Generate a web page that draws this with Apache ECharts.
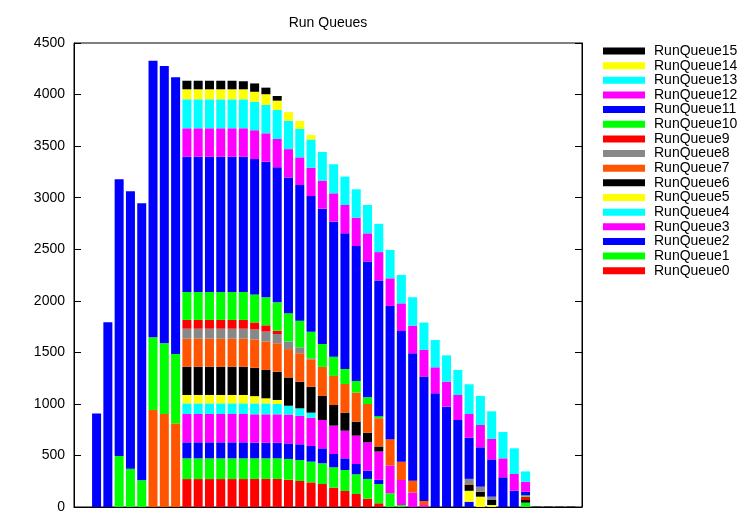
<!DOCTYPE html>
<html>
<head>
<meta charset="utf-8">
<script src="https://cdn.jsdelivr.net/npm/echarts@6/dist/echarts.min.js"></script>
<style>html,body{margin:0;padding:0;background:#fff}#c{width:750px;height:525px}</style>
</head>
<body>
<div id="c"></div>
<script>
// histogram rows shown on the x axis (-2..43); bars occupy rows 0..42
const categories = Array.from({length: 46}, (_, i) => String(i - 2));
const firstBarCategory = 2;
const yTicks = [0, 500, 1000, 1500, 2000, 2500, 3000, 3500, 4000, 4500];
const seriesNames = ['RunQueue0','RunQueue1','RunQueue2','RunQueue3','RunQueue4','RunQueue5','RunQueue6','RunQueue7',
  'RunQueue8','RunQueue9','RunQueue10','RunQueue11','RunQueue12','RunQueue13','RunQueue14','RunQueue15'];
const colors = ['#ff0000','#00ff00','#0000ff','#ff00ff','#00ffff','#ffff00','#000000','#ff5500',
  '#888888','#ff0000','#00ff00','#0000ff','#ff00ff','#00ffff','#ffff00','#000000'];

const rq0  = [0,0,0,0,0,0,0,0, 271,271,271,271,271,271, 272,272,272,265,252,239,223,188,155,126,81,36, 0,0,0,0,0,0,0,0,0,0,0,0,0,0,0,0,0];
const rq1  = [0,0,0,0,0,0,0,0, 201,201,201,201,201,201, 200,200,200,201,204,201,201,197,204,191,191,187,133,19, 0,0,0,0,0,0,0,0,0,0, 42, 0,0,0,0];
const rq2  = [0,0,0,0,0,0,0,0, 155,155,155,155,155,155, 152,152,152,151,152,152,145,129,113,100,80,40, 0,0,0,0,0,0,0, 51, 0,0,0,0,0,0,0,0,0];
const rq3  = [0,0,0,0,0,0,0,0, 275,275,275,275,275,275, 275,275,275,280,275,274,275,275,268,275,275,275,270,243,139,19, 0,0,0,0,0,0,0,0,0,0,0,0,0];
const rq4  = [0,0,0,0,0,0,0,0, 103,103,103,103,103,103, 106,106,100,85,74,49, 0,0,0,0,0,0,0,0,0,0,0,0,0,0,0,0,0,0,0,0,0,0,0];
const rq5  = [0,0,0,0,0,0,0,0, 81,81,81,81,81,81, 70,49,39, 0,0,0,0,0,0,0,0,0,0,0,0,0,0,0,0, 106,100,19, 0,0,0,0,0,0,0];
const rq6  = [0,0,0,0,0,0,0,0, 275,275,275,275,275,275, 275,275,274,274,258,252,233,200,175,136,94,49, 0,0,0,0,0,0,0, 60,48,49, 0,0, 26, 0,0,0,0];
const rq7  = [0,0,0,0,0, 941,902,811, 271,271,271,271,271,271, 275,275,276,275,276,265,282,282,278,281,278,274,255,178,116,40, 0,0,0, 6,4, 0,0,0,0,0,0,0,0];
const rq8  = [0,0,0,0,0,0,0,0, 97,97,97,97,97,97, 97,97,90,74,58,10, 0,0,0,0,0,0,0,0,0,0,0,0,0, 50,45,32, 0,0,0,0,0,0,0];
const rq9  = [0,0,0,0,0,0,0,0, 85,85,85,85,85,85, 68,61,32, 0,0,0,0,0,0,0,0,0,0,0,0,0,0,0,0,0,0,0,0,0, 32, 0,0,0,0];
const rq10 = [0,0, 495,372,259,705,685,673, 271,271,271,271,271,271, 272,272,275,275,258,258,222,187,145,113,65,20, 0,0,0,0,0,0,0,0,0,0,0,0, 13, 0,0,0,0];
const rq11 = [908,1791,2683,2690,2686,2683,2690,2683, 1312,1312,1312,1312,1312,1312, 1312,1315,1309,1316,1316,1315,1312,1309,1316,1309,1316,1316,1292,1267,1235,1206,1102,973,844,399,382,362,288,158,35, 0,0,0,0];
const rq12 = [0,0,0,0,0,0,0,0, 276,276,276,276,276,276, 280,275,275,275,268,275,272,275,275,275,274,275,268,268,269,259,253,243,242,230,216,198,184,162,97, 0,0,0,0];
const rq13 = [0,0,0,0,0,0,0,0, 281,281,281,281,281,281, 276,275,282,275,275,275,278,282,275,275,275,274,275,275,275,265,265,255,243,288,282,268,255,249,100, 0,0,0,0];
const rq14 = [0,0,0,0,0,0,0,0, 97,97,97,97,97,97, 97,104,90,84,78,42, 0,0,0,0,0,0,0,0,0,0,0,0,0,0,0,0,0,0,0,0,0,0,0];
const rq15 = [0,0,0,0,0,0,0,0, 83,83,83,83,83,78, 81,64,45, 0,0,0,0,0,0,0,0,0,0,0,0,0,0,0,0,0,0,0,0,0,0, 4,4,4,4];

const allValues = [rq0,rq1,rq2,rq3,rq4,rq5,rq6,rq7,rq8,rq9,rq10,rq11,rq12,rq13,rq14,rq15];
const FONT = "'Liberation Sans', Arial, Helvetica, sans-serif";

const chart = echarts.init(document.getElementById('c'), null, {renderer: 'canvas'});
const series = allValues.map((vals, k) => {
  const data = categories.map(() => 0);
  vals.forEach((v, i) => { data[i + firstBarCategory] = v; });
  return {
    name: seriesNames[k],
    type: 'bar',
    stack: 'all',
    barWidth: 9,
    itemStyle: {color: colors[k]},
    emphasis: {disabled: true},
    data: data
  };
});

chart.setOption({
  animation: false,
  backgroundColor: '#fff',
  color: colors,
  title: {
    text: 'Run Queues', left: 328, top: 16, padding: 0, textAlign: 'center',
    textStyle: {fontSize: 14, fontWeight: 'normal', color: '#000', fontFamily: FONT}
  },
  grid: {left: 74, right: 168, top: 43, bottom: 18, show: true, borderColor: '#000', borderWidth: 1},
  legend: {
    orient: 'vertical', left: 603, top: 44, padding: 0, itemWidth: 42, itemHeight: 7, itemGap: 0.65,
    icon: 'rect', selectedMode: false,
    formatter: '{t|{name}}',
    textStyle: {fontSize: 14, color: '#000', fontFamily: FONT,
      rich: {t: {fontSize: 14, color: '#000', fontFamily: FONT, padding: [0, 0, 0, 4], height: 14, lineHeight: 14}}},
    data: seriesNames.slice().reverse()
  },
  xAxis: [{
    type: 'category', data: categories, boundaryGap: false, position: 'bottom',
    axisLine: {show: true, lineStyle: {color: '#000', width: 1}},
    axisTick: {show: false}, axisLabel: {show: false}, splitLine: {show: false}
  }],
  yAxis: [{
    type: 'value', min: yTicks[0], max: yTicks[yTicks.length - 1], interval: 500, position: 'left',
    axisLine: {show: true, onZero: false, lineStyle: {color: '#000', width: 1}},
    axisTick: {show: true, inside: true, length: 7, lineStyle: {color: '#000'}},
    axisLabel: {fontSize: 14, color: '#000', fontFamily: FONT, margin: 9, formatter: v => String(v)},
    splitLine: {show: false}
  }, {
    type: 'value', min: yTicks[0], max: yTicks[yTicks.length - 1], interval: 500, position: 'right',
    axisLine: {show: true, onZero: false, lineStyle: {color: '#000', width: 1}},
    axisTick: {show: true, inside: true, length: 7, lineStyle: {color: '#000'}},
    axisLabel: {show: false}, splitLine: {show: false}
  }],
  series: series
});
</script>
</body>
</html>
